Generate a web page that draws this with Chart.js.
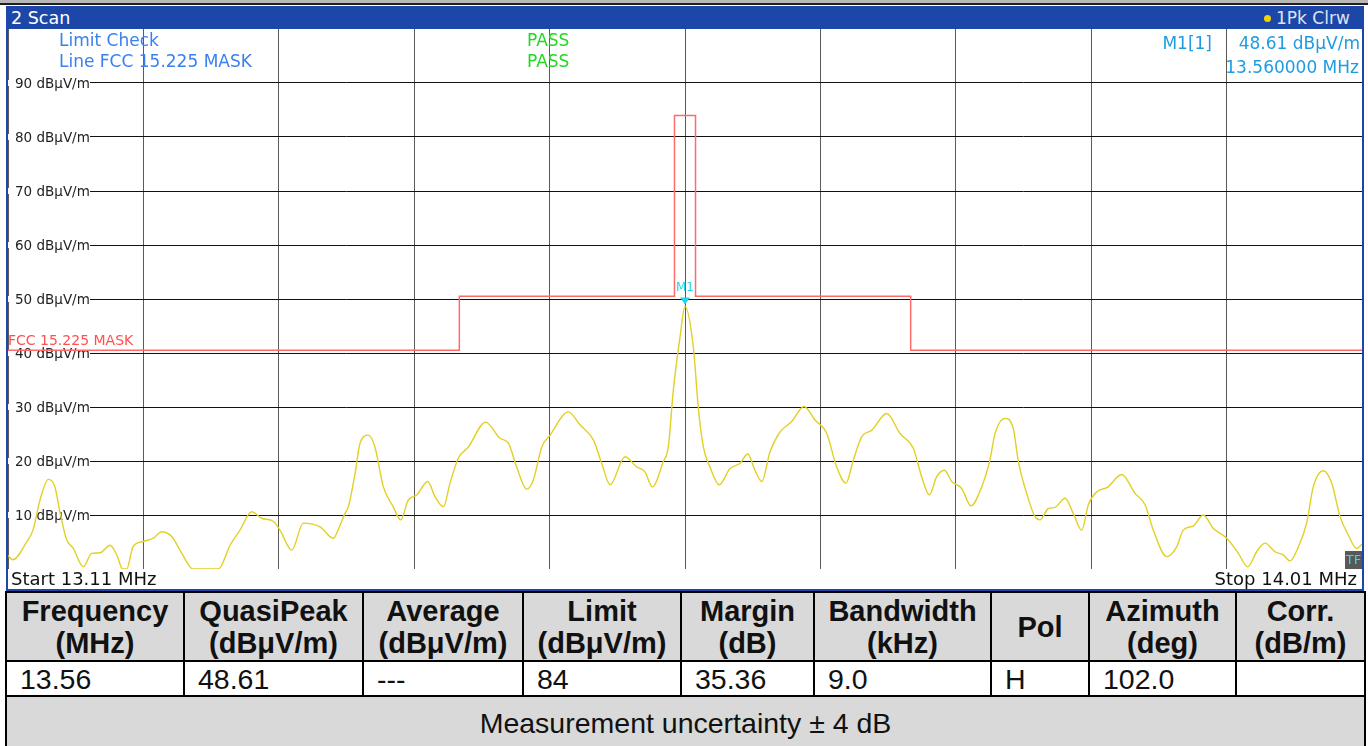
<!DOCTYPE html>
<html lang="en">
  <head>
    <meta charset="UTF-8" />
    <title>2 Scan</title>
    <script src="https://cdn.jsdelivr.net/npm/chart.js"></script>
    <style>
      body {
        margin: 0;
        width: 1368px;
        height: 746px;
        overflow: hidden;
        background: #fff;
        font-family: "DejaVu Sans", sans-serif;
        position: relative;
      }
      .abs { position: absolute; white-space: nowrap; }
      .topstrip {
        left: 0; top: 0; width: 1368px; height: 3px;
        background: #b8b8b8; border-bottom: 2px solid #202020;
      }
      .frame {
        left: 6px; top: 6px; width: 1358px; height: 585px;
        background: #1c47a8;
      }
      .plot { left: 8px; top: 29px; width: 1354px; height: 540px; background: #fff; }
      .strip { left: 8px; top: 569px; width: 1354px; height: 20px; background: #fff; }
      .t17 { font-size: 17px; line-height: 20px; }
      .se { font-size: 18px; line-height: 20px; color: #111; top: 569px; }
      .title { left: 11px; top: 8px; color: #fff; font-size: 17.5px; }
      .trinfo { left: 1264px; top: 8px; color: #dfe4f0; }
      .dot {
        display: inline-block; width: 7px; height: 7px; border-radius: 50%;
        background: #f2d400; margin-right: 5px; vertical-align: 2px;
      }
      .blue { color: #3a80ee; }
      .green { color: #22d822; }
      .mk { color: #1e9ce2; }
      .tf {
        left: 1345px; top: 551px; width: 17px; height: 18px; background: #585858;
        color: #22e0f0; font-size: 13px; line-height: 18px; text-align: center;
      }
      table {
        position: absolute; left: 5px; top: 591px; width: 1359px;
        border-collapse: collapse; table-layout: fixed;
        font-family: "Liberation Sans", Arial, sans-serif; font-size: 28.5px; color: #111;
      }
      td, th { border: 2px solid #000; padding: 0; line-height: 32px; }
      th { background: #d9d9d9; height: 67px; font-weight: bold; font-size: 29px; }
      td { height: 33px; padding-left: 13px; background: #fff; }
      td.foot { background: #d9d9d9; height: 52px; text-align: center; padding: 0; }
    </style>
  </head>
  <body>
    <div class="abs topstrip"></div>
    <div class="abs frame"></div>
    <div class="abs title t17">2 Scan</div>
    <div class="abs trinfo t17"><span class="dot"></span>1Pk Clrw</div>
    <div class="abs plot"><canvas id="chart" width="1354" height="540"></canvas></div>
    <div class="abs strip"></div>

    <div class="abs t17 blue" style="left: 59px; top: 30px">Limit Check</div>
    <div class="abs t17 blue" style="left: 59px; top: 51px">Line FCC 15.225 MASK</div>
    <div class="abs t17 green" style="left: 527px; top: 30px">PASS</div>
    <div class="abs t17 green" style="left: 527px; top: 51px">PASS</div>
    <div class="abs t17 mk" style="right: 156px; top: 33px">M1[1]</div>
    <div class="abs t17 mk" style="right: 8px; top: 33px">48.61 dBµV/m</div>
    <div class="abs t17 mk" style="right: 9px; top: 57px">13.560000 MHz</div>
    <div class="abs tf">TF</div>
    <div class="abs se" style="left: 11px">Start 13.11 MHz</div>
    <div class="abs se" style="right: 11px">Stop 14.01 MHz</div>

    <table>
      <colgroup>
        <col style="width: 178px" /><col style="width: 179px" /><col style="width: 160px" />
        <col style="width: 158px" /><col style="width: 133px" /><col style="width: 177px" />
        <col style="width: 98px" /><col style="width: 147px" /><col style="width: 129px" />
      </colgroup>
      <tr>
        <th>Frequency<br />(MHz)</th>
        <th>QuasiPeak<br />(dBμV/m)</th>
        <th>Average<br />(dBμV/m)</th>
        <th>Limit<br />(dBμV/m)</th>
        <th>Margin<br />(dB)</th>
        <th>Bandwidth<br />(kHz)</th>
        <th>Pol</th>
        <th>Azimuth<br />(deg)</th>
        <th>Corr.<br />(dB/m)</th>
      </tr>
      <tr>
        <td>13.56</td><td>48.61</td><td>---</td><td>84</td><td>35.36</td>
        <td>9.0</td><td>H</td><td>102.0</td><td></td>
      </tr>
      <tr><td class="foot" colspan="9">Measurement uncertainty ± 4 dB</td></tr>
    </table>

    <script>
      // trace 1 (Pk, Clrw)
      const freqMHz = [
        13.1100, 13.1131, 13.1226, 13.1266, 13.1313, 13.1368, 13.1412, 13.1446, 13.1490, 13.1532,
        13.1601, 13.1656, 13.1712, 13.1778, 13.1823, 13.1862, 13.1889, 13.1931, 13.1999, 13.2066,
        13.2122, 13.2188, 13.2243, 13.2310, 13.2330, 13.2498, 13.2576, 13.2642, 13.2720, 13.2786,
        13.2864, 13.2908, 13.2986, 13.3063, 13.3174, 13.3262, 13.3307, 13.3340, 13.3362, 13.3407,
        13.3440, 13.3495, 13.3539, 13.3595, 13.3661, 13.3710, 13.3761, 13.3817, 13.3890, 13.3938,
        13.3994, 13.4038, 13.4093, 13.4160, 13.4275, 13.4370, 13.4426, 13.4481, 13.4548, 13.4592,
        13.4648, 13.4703, 13.4824, 13.4902, 13.4991, 13.5046, 13.5102, 13.5201, 13.5279, 13.5334,
        13.5383, 13.5456, 13.5489, 13.5522, 13.5567, 13.5600, 13.5655, 13.5688, 13.5722, 13.5766,
        13.5828, 13.5899, 13.5966, 13.6017, 13.6065, 13.6110, 13.6165, 13.6232, 13.6309, 13.6391,
        13.6464, 13.6542, 13.6608, 13.6670, 13.6719, 13.6775, 13.6841, 13.6941, 13.7029, 13.7118,
        13.7173, 13.7224, 13.7273, 13.7324, 13.7373, 13.7439, 13.7501, 13.7572, 13.7627, 13.7661,
        13.7727, 13.7782, 13.7816, 13.7871, 13.7926, 13.7960, 13.8015, 13.8059, 13.8126, 13.8181,
        13.8237, 13.8281, 13.8337, 13.8407, 13.8503, 13.8591, 13.8658, 13.8713, 13.8802, 13.8868,
        13.8912, 13.8979, 13.9045, 13.9112, 13.9201, 13.9278, 13.9340, 13.9400, 13.9455, 13.9522,
        13.9577, 13.9621, 13.9677, 13.9732, 13.9776, 13.9843, 13.9899, 13.9954, 14.0009, 14.0064,
        14.0100,
      ];
      const levelDb = [
        2.5, 1.7, 5.1, 7.2, 12.8, 16.6, 15.2, 10.4, 5.4, 3.9,
        0.4, 2.9, 3.0, 4.4, 2.6, 0, 0, 4.1, 5.1, 5.7,
        6.9, 6.0, 3.5, 0.4, 0, 0, 4.4, 7.2, 10.6, 9.4,
        8.8, 7.2, 3.5, 8.5, 7.8, 5.7, 8.1, 10.3, 11.5, 17.7,
        23.3, 24.8, 22.6, 15.2, 11.5, 9.1, 12.8, 13.7, 16.2, 13.4,
        11.5, 15.9, 20.5, 22.6, 27.2, 24.2, 23.3, 18.9, 14.8, 16.5,
        22.6, 24.8, 29.1, 26.7, 23.9, 19.6, 15.6, 20.8, 18.9, 18.0,
        15.2, 19.9, 22.6, 33.0, 43.0, 48.61, 41.2, 30.0, 22.6, 18.9,
        15.6, 18.6, 19.6, 21.3, 18.3, 16.2, 21.7, 25.4, 27.3, 30.1,
        27.6, 25.1, 18.9, 15.9, 20.2, 24.5, 25.7, 28.8, 25.1, 22.3,
        17.1, 13.7, 17.1, 18.3, 16.2, 14.9, 11.7, 15.2, 20.2, 25.1,
        27.9, 26.0, 19.9, 14.0, 9.7, 9.1, 11.2, 11.4, 13.1, 10.3,
        7.2, 11.9, 14.3, 15.1, 17.5, 14.0, 11.9, 7.2, 2.3, 4.1,
        7.2, 8.0, 10.0, 7.5, 5.7, 2.9, 0.4, 3.2, 4.8, 3.2,
        2.6, 1.5, 4.1, 8.5, 15.2, 18.2, 15.9, 9.7, 6.3, 3.8,
        4.6,
      ];

      // FCC 15.225 mask
      const maskFreq = [13.11, 13.41, 13.41, 13.553, 13.553, 13.567, 13.567, 13.71, 13.71, 14.01];
      const maskLevel = [40.5, 40.5, 50.5, 50.5, 84, 84, 50.5, 50.5, 40.5, 40.5];

      // marker M1
      const markerFreq = [13.56];
      const markerLevel = [48.61];

      // grid
      const freqGrid = [13.11, 13.2, 13.29, 13.38, 13.47, 13.56, 13.65, 13.74, 13.83, 13.92, 14.01];
      const levelTicks = [10, 20, 30, 40, 50, 60, 70, 80, 90];
      const levelLabels = levelTicks.map((v) => v + " dBµV/m");

      const overlay = {
        id: "overlay",
        beforeDatasetsDraw(chart) {
          const { ctx, chartArea, scales } = chart;
          ctx.save();
          ctx.font = '13.5px "DejaVu Sans"';
          ctx.textBaseline = "middle";
          levelTicks.forEach((v, i) => {
            const py = scales.y.getPixelForValue(v);
            ctx.fillStyle = "#fff";
            ctx.fillRect(chartArea.left, py - 3, 82, 6);
            ctx.fillStyle = "#222";
            ctx.fillText(levelLabels[i], chartArea.left + 7, py + 1);
          });
          ctx.restore();
        },
        afterDatasetsDraw(chart) {
          const { ctx, chartArea, scales } = chart;
          ctx.save();
          // limit line name
          ctx.font = '14px "DejaVu Sans"';
          ctx.textBaseline = "middle";
          ctx.fillStyle = "#ff5050";
          ctx.fillText("FCC 15.225 MASK", chartArea.left, scales.y.getPixelForValue(maskLevel[0]) - 9);
          // marker
          const px = scales.x.getPixelForValue(markerFreq[0]);
          const py = scales.y.getPixelForValue(markerLevel[0]);
          ctx.fillStyle = "#1fd6ea";
          ctx.beginPath();
          ctx.moveTo(px - 5, py - 9);
          ctx.lineTo(px + 5, py - 9);
          ctx.lineTo(px, py - 2);
          ctx.closePath();
          ctx.fill();
          ctx.font = '12px "DejaVu Sans"';
          ctx.textAlign = "center";
          ctx.fillText("M1", px, py - 19);
          ctx.restore();
        },
      };

      new Chart(document.getElementById("chart"), {
        type: "line",
        data: {
          datasets: [
            {
              label: "FCC 15.225 MASK",
              data: maskFreq.map((f, i) => ({ x: f, y: maskLevel[i] })),
              borderColor: "#ff6b6b",
              borderWidth: 1.5,
              pointRadius: 0,
              tension: 0,
            },
            {
              label: "1Pk Clrw",
              data: freqMHz.map((f, i) => ({ x: f, y: levelDb[i] })),
              borderColor: "#e2d024",
              borderWidth: 1.4,
              pointRadius: 0,
              cubicInterpolationMode: "monotone",
            },
          ],
        },
        options: {
          responsive: false,
          animation: false,
          devicePixelRatio: 1,
          layout: { padding: 0 },
          plugins: { legend: { display: false }, tooltip: { enabled: false } },
          scales: {
            x: {
              type: "linear",
              min: 13.11,
              max: 14.01,
              afterBuildTicks: (s) => { s.ticks = freqGrid.map((v) => ({ value: v })); },
              ticks: { display: false },
              grid: { color: "#5a5a5a", lineWidth: 1, drawTicks: false },
              border: { display: true, color: "#707070", width: 1 },
            },
            y: {
              min: 0,
              max: 100,
              afterBuildTicks: (s) => { s.ticks = levelTicks.map((v) => ({ value: v })); },
              ticks: { display: false },
              grid: { color: "#111", lineWidth: 1, drawTicks: false },
              border: { display: false },
            },
          },
        },
        plugins: [overlay],
      });
    </script>
  </body>
</html>
